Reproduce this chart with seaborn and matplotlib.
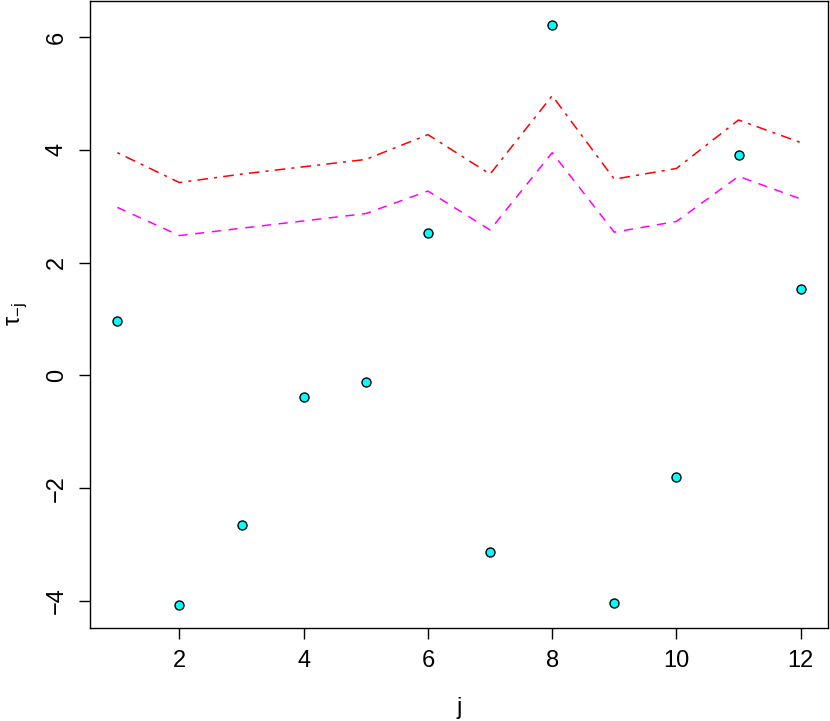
import numpy as np
import pandas as pd
import matplotlib
matplotlib.use("Agg")
import matplotlib.pyplot as plt
import seaborn as sns

# data
j = list(range(1, 13))
tau = [0.97, -4.07, -2.65, -0.39, -0.11, 2.53, -3.13, 6.21, -4.04, -1.81, 3.91, 1.54]
upper = [3.95, 3.42, 3.57, 3.70, 3.83, 4.27, 3.57, 4.96, 3.48, 3.67, 4.53, 4.13]
lower = [2.98, 2.48, 2.61, 2.74, 2.87, 3.27, 2.58, 3.95, 2.54, 2.73, 3.53, 3.13]

df = pd.DataFrame({'j': j, 'tau': tau, 'upper': upper, 'lower': lower})

sns.set_style("ticks", {'text.color': 'black', 'xtick.color': 'black',
                        'ytick.color': 'black', 'axes.labelcolor': 'black'})
plt.rcParams['font.family'] = ['Liberation Sans', 'DejaVu Sans']

fig = plt.figure(figsize=(8.3, 7.21), dpi=100)
ax = fig.add_axes([0.1084, 0.129, 0.8892, 0.8696])

sns.lineplot(data=df, x='j', y='upper', ax=ax, color='red', linewidth=1.1,
             estimator=None)
ax.lines[-1].set_dashes([2, 4, 7, 4])
sns.lineplot(data=df, x='j', y='lower', ax=ax, color='magenta', linewidth=1.1,
             estimator=None)
ax.lines[-1].set_dashes([6, 5])
sns.scatterplot(data=df, x='j', y='tau', ax=ax, color='cyan', edgecolor='black',
                linewidth=1.0, s=42, zorder=3)

ax.set_xlim(0.56, 12.44)
ax.set_ylim(-4.48, 6.64)
ax.set_xticks([2, 4, 6, 8, 10, 12])
ax.set_yticks([-4, -2, 0, 2, 4, 6])
ax.tick_params(labelsize=17, length=8, width=1, color='black', labelcolor='black', pad=8)
for lab in ax.get_yticklabels():
    lab.set_rotation(90)
    lab.set_va('center')
for s in ax.spines.values():
    s.set_visible(True)
    s.set_color('black')
    s.set_linewidth(1.0)

ax.set_xlabel('j', fontsize=17, labelpad=18, color='black')
ax.set_ylabel(r'τ$_{\mathregular{-j}}$', fontsize=17, labelpad=12, color='black')

fig.savefig('out.png', dpi=100)
